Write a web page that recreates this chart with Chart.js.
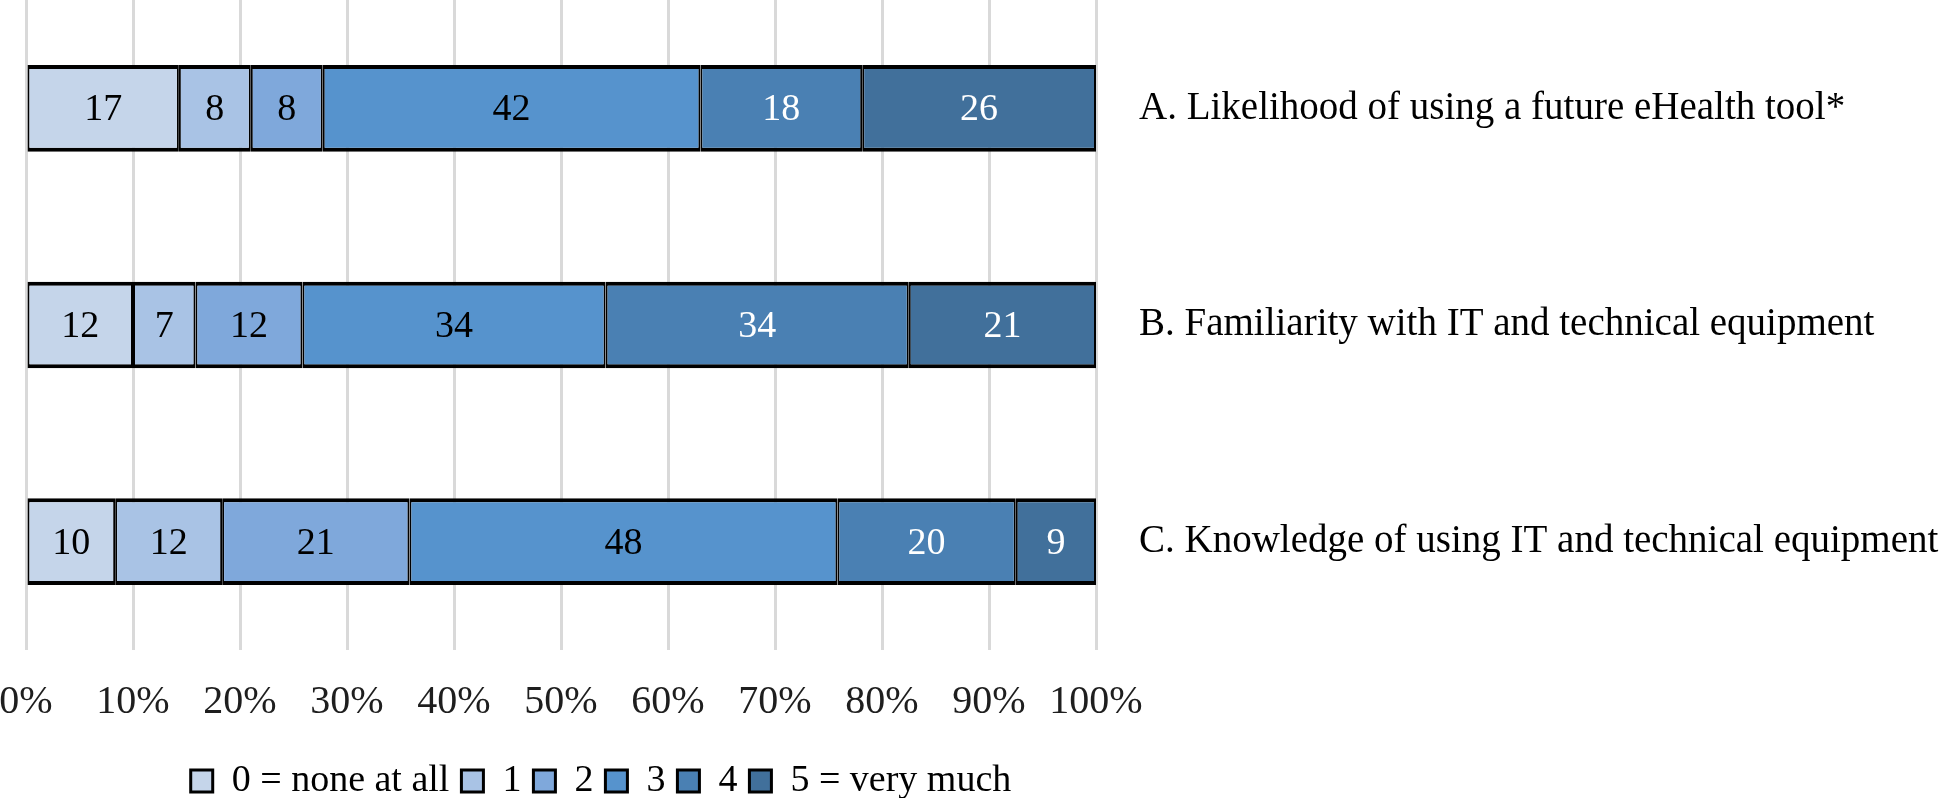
<!DOCTYPE html>
<html>
<head>
<meta charset="utf-8">
<script src="https://cdn.jsdelivr.net/npm/chart.js@4/dist/chart.umd.min.js"></script>
<style>
html, body { margin: 0; padding: 0; background: #fff; }
canvas { display: block; }
</style>
</head>
<body>
<canvas id="chart" width="1960" height="798"></canvas>
<script>
// rows (right-hand labels)
const categories = [
    'A. Likelihood of using a future eHealth tool*',
    'B. Familiarity with IT and technical equipment',
    'C. Knowledge of using IT and technical equipment'
]
const levels = ['0 = none at all', '1', '2', '3', '4', '5 = very much']

// answer counts per level, rows A, B, C
const level0 = [17, 12, 10]
const level1 = [8, 7, 12]
const level2 = [8, 12, 21]
const level3 = [42, 34, 48]
const level4 = [18, 34, 20]
const level5 = [26, 21, 9]

const xTickValues = [0, 10, 20, 30, 40, 50, 60, 70, 80, 90, 100]

const counts = [level0, level1, level2, level3, level4, level5]
const colors = ['#c5d5ea', '#a9c3e5', '#7fa8db', '#5693cd', '#4a80b3', '#41709b']
const textColors = ['#000', '#000', '#000', '#000', '#fff', '#fff']

const FONT = '"Liberation Serif", "Times New Roman", serif'
Chart.defaults.font.family = FONT
Chart.defaults.font.size = 38
Chart.defaults.color = '#000'

// 100% stacked: each row is scaled by its own total
const totals = categories.map((c, i) => counts.reduce((s, arr) => s + arr[i], 0))

const datasets = levels.map((name, k) => ({
    label: name,
    counts: counts[k],
    data: counts[k].map((v, i) => v / totals[i] * 100),
    backgroundColor: colors[k],
    borderColor: '#000',
    borderWidth: {top: 4, bottom: 4, left: 2, right: 2},
    borderSkipped: false,
    barPercentage: 0.4,
    categoryPercentage: 1
}))

// count labels in the middle of each segment
const barLabels = {
    id: 'barLabels',
    afterDatasetsDraw(chart) {
        const ctx = chart.ctx
        ctx.save()
        ctx.font = '38px ' + FONT
        ctx.textAlign = 'center'
        ctx.textBaseline = 'middle'
        chart.data.datasets.forEach((ds, di) => {
            const meta = chart.getDatasetMeta(di)
            meta.data.forEach((bar, i) => {
                const p = bar.getCenterPoint()
                ctx.fillStyle = textColors[di]
                ctx.fillText(ds.counts[i], p.x, p.y + 2)
            })
        })
        ctx.restore()
    }
}

// nudge the legend row under the plot like the original
const legendShift = {
    id: 'legendShift',
    afterLayout(chart) {
        chart.legend.left += 40
        chart.legend.right += 40
    }
}

new Chart(document.getElementById('chart').getContext('2d'), {
    type: 'bar',
    data: { labels: categories, datasets: datasets },
    plugins: [barLabels, legendShift],
    options: {
        indexAxis: 'y',
        responsive: false,
        animation: false,
        devicePixelRatio: 1,
        layout: { padding: { left: 26, top: 0, right: 0, bottom: -12 } },
        scales: {
            x: {
                stacked: true,
                min: 0,
                max: 100,
                afterBuildTicks: (axis) => { axis.ticks = xTickValues.map(v => ({ value: v })) },
                ticks: {
                    callback: (v) => v + '%',
                    color: '#1e1e1e',
                    font: { size: 40 },
                    padding: 28,
                    maxRotation: 0,
                    autoSkip: false
                },
                grid: { color: '#d9d9d9', lineWidth: 3, drawTicks: false },
                border: { display: false },
                afterFit: (axis) => {
                    axis.paddingLeft = 0
                    axis.paddingRight = 0
                    axis.height = 100
                }
            },
            y: {
                stacked: true,
                position: 'right',
                grid: { display: false },
                border: { display: false },
                ticks: { color: '#000', padding: 35, font: { size: 39 } },
                afterFit: (axis) => {
                    axis.paddingTop = 0
                    axis.paddingBottom = 0
                    axis.width = 864
                }
            }
        },
        plugins: {
            legend: {
                position: 'bottom',
                fullSize: false,
                labels: {
                    boxWidth: 22,
                    boxHeight: 22,
                    padding: 12,
                    color: '#000',
                    font: { size: 38 }
                }
            },
            tooltip: { enabled: false }
        }
    }
})
</script>
</body>
</html>
